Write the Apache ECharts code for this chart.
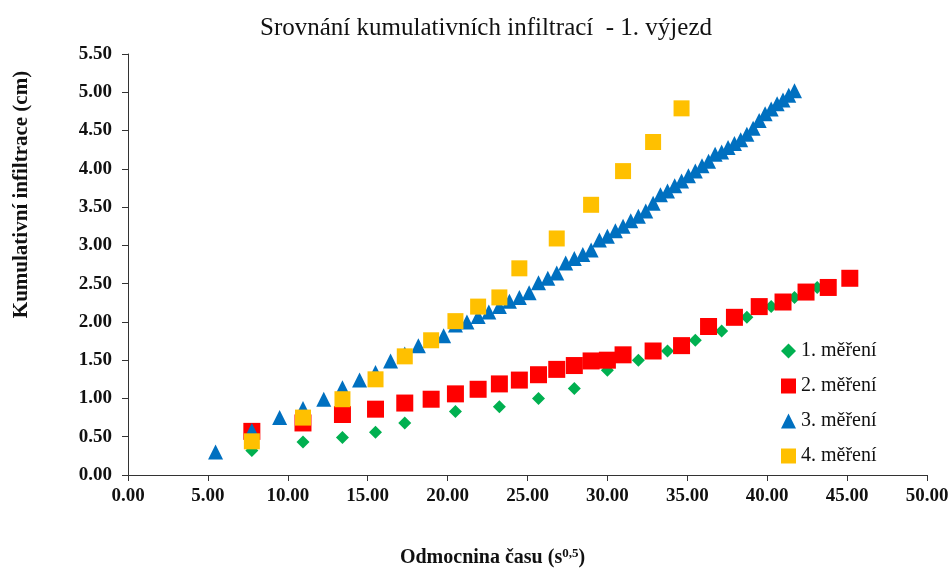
<!DOCTYPE html>
<html><head><meta charset="utf-8">
<script src="https://cdn.jsdelivr.net/npm/echarts@6/dist/echarts.min.js"></script>
<style>html,body{margin:0;padding:0;background:#fff}#c{width:952px;height:570px}</style>
</head><body><div id="c"></div>
<script>
var seriesNames = ['1. měření', '2. měření', '3. měření', '4. měření'];

var x1 = [7.75, 10.95, 13.42, 15.49, 17.32, 20.49, 23.24, 25.69, 27.93, 30.00, 31.94, 33.76, 35.50, 37.15, 38.73, 40.25, 41.71, 43.13];
var y1 = [0.32, 0.43, 0.49, 0.56, 0.68, 0.83, 0.89, 1.00, 1.13, 1.37, 1.50, 1.62, 1.76, 1.88, 2.06, 2.20, 2.32, 2.45];

var x2 = [7.75, 10.95, 13.42, 15.49, 17.32, 18.97, 20.49, 21.91, 23.24, 24.49, 25.69, 26.83, 27.93, 28.98, 30.00, 30.98, 32.86, 34.64, 36.33, 37.95, 39.50, 40.99, 42.43, 43.82, 45.17];
var y2 = [0.57, 0.68, 0.79, 0.86, 0.94, 0.99, 1.06, 1.12, 1.19, 1.24, 1.31, 1.38, 1.43, 1.49, 1.50, 1.57, 1.62, 1.69, 1.94, 2.06, 2.20, 2.26, 2.39, 2.45, 2.57];

var x3 = [5.48, 7.75, 9.49, 10.95, 12.25, 13.42, 14.49, 15.49, 16.43, 17.32, 18.17, 18.97, 19.75, 20.49, 21.21, 21.91, 22.58, 23.24, 23.87, 24.49, 25.10, 25.69, 26.27, 26.83, 27.39, 27.93, 28.46, 28.98, 29.50, 30.00, 30.50, 30.98, 31.46, 31.94, 32.40, 32.86, 33.32, 33.76, 34.21, 34.64, 35.07, 35.50, 35.92, 36.33, 36.74, 37.15, 37.55, 37.95, 38.34, 38.73, 39.12, 39.50, 39.87, 40.25, 40.62, 40.99, 41.35, 41.71];
var y3 = [0.30, 0.58, 0.75, 0.87, 0.99, 1.14, 1.24, 1.34, 1.49, 1.58, 1.69, 1.76, 1.82, 1.96, 2.00, 2.07, 2.13, 2.20, 2.27, 2.32, 2.38, 2.51, 2.57, 2.64, 2.77, 2.83, 2.88, 2.94, 3.07, 3.12, 3.19, 3.25, 3.32, 3.38, 3.45, 3.55, 3.66, 3.71, 3.78, 3.84, 3.91, 3.97, 4.04, 4.10, 4.19, 4.22, 4.28, 4.33, 4.38, 4.45, 4.53, 4.63, 4.72, 4.78, 4.85, 4.90, 4.96, 5.02];

var x4 = [7.75, 10.95, 13.42, 15.49, 17.32, 18.97, 20.49, 21.91, 23.24, 24.49, 26.83, 28.98, 30.98, 32.86, 34.64];
var y4 = [0.44, 0.75, 0.99, 1.25, 1.55, 1.76, 2.01, 2.20, 2.32, 2.70, 3.09, 3.53, 3.97, 4.35, 4.79];

function pairs(xs, ys) { return xs.map(function (v, i) { return [v, ys[i]]; }); }

var serif = '"Liberation Serif", "DejaVu Serif", serif';
var chart = echarts.init(document.getElementById('c'));
chart.setOption({
  animation: false,
  backgroundColor: '#fff',
  title: {
    text: 'Srovnání kumulativních infiltrací  - 1. výjezd',
    left: 255, top: 11,
    textStyle: { fontFamily: serif, fontSize: 25, fontWeight: 'normal', color: '#111' }
  },
  grid: { left: 128, right: 25, top: 54, bottom: 95, containLabel: false, outerBoundsMode: 'none' },
  legend: {
    orient: 'vertical', left: 776, top: 336, itemGap: 15, itemWidth: 15, itemHeight: 15,
    textStyle: { fontFamily: serif, fontSize: 20, color: '#111' },
    data: [
      { name: seriesNames[0], icon: 'diamond' },
      { name: seriesNames[1], icon: 'rect' },
      { name: seriesNames[2], icon: 'triangle' },
      { name: seriesNames[3], icon: 'rect' }
    ]
  },
  xAxis: {
    type: 'value', min: 0, max: 50, interval: 5,
    name: '{a|Odmocnina času (s}{b|0,5}{a|)}',
    nameLocation: 'middle', nameGap: 72,
    nameTextStyle: {
      padding: [0, 70, 0, 0],
      rich: {
        a: { fontFamily: serif, fontSize: 20, fontWeight: 'bold', color: '#111' },
        b: { fontFamily: serif, fontSize: 13, fontWeight: 'bold', color: '#111', verticalAlign: 'top', padding: [0, 0, 9, 0] }
      }
    },
    axisLine: { show: true, lineStyle: { color: '#333', width: 1 } },
    axisTick: { show: true, length: 6, lineStyle: { color: '#333' } },
    splitLine: { show: false },
    axisLabel: { fontFamily: serif, fontSize: 19, fontWeight: 'bold', color: '#111', margin: 12,
      formatter: function (v) { return v.toFixed(2); } }
  },
  yAxis: {
    type: 'value', min: 0, max: 5.5, interval: 0.5,
    name: 'Kumulativní infiltrace (cm)',
    nameLocation: 'middle', nameGap: 96, nameRotate: 90,
    nameTextStyle: { fontFamily: serif, fontSize: 21, fontWeight: 'bold', color: '#111', padding: [0, 0, 0, 140] },
    axisLine: { show: true, lineStyle: { color: '#333', width: 1 } },
    axisTick: { show: true, length: 6, lineStyle: { color: '#333' } },
    splitLine: { show: false },
    axisLabel: { fontFamily: serif, fontSize: 19, fontWeight: 'bold', color: '#111', margin: 16,
      formatter: function (v) { return v.toFixed(2); } }
  },
  series: [
    { name: seriesNames[0], type: 'scatter', symbol: 'diamond', symbolSize: 13,
      itemStyle: { color: '#00B050', opacity: 1 }, data: pairs(x1, y1) },
    { name: seriesNames[1], type: 'scatter', symbol: 'rect', symbolSize: 17,
      itemStyle: { color: '#FF0000', opacity: 1 }, data: pairs(x2, y2) },
    { name: seriesNames[2], type: 'scatter', symbol: 'triangle', symbolSize: 15,
      itemStyle: { color: '#0070C0', opacity: 1 }, data: pairs(x3, y3) },
    { name: seriesNames[3], type: 'scatter', symbol: 'rect', symbolSize: 16,
      itemStyle: { color: '#FFC000', opacity: 1 }, data: pairs(x4, y4) }
  ]
});
</script>
</body></html>
